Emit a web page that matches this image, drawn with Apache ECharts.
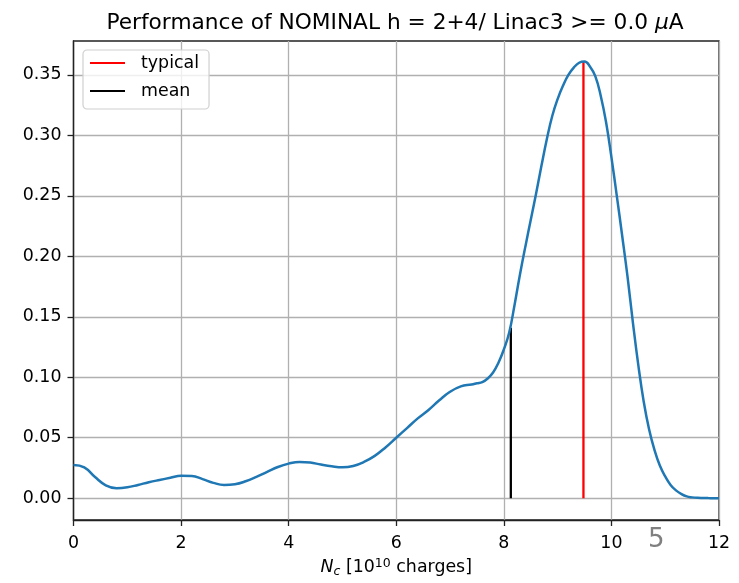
<!DOCTYPE html>
<html>
<head>
<meta charset="utf-8">
<script src="https://cdn.jsdelivr.net/npm/echarts@6/dist/echarts.min.js"></script>
<style>html,body{margin:0;padding:0;background:#fff}#c{width:739px;height:583px}</style>
</head>
<body>
<div id="c"></div>
<script>
// ---- data ----
const curveX = [0.0,0.2,0.4,0.6,0.8,1.0,1.2,1.4,1.6,1.8,2.0,2.2,2.4,2.6,2.8,3.0,3.2,3.4,3.6,3.8,4.0,4.2,4.4,4.6,4.8,5.0,5.2,5.4,5.6,5.8,6.0,6.2,6.4,6.6,6.8,7.0,7.2,7.4,
  7.5,7.6,7.7,7.8,7.9,8.0,8.1,8.2,8.3,8.4,8.5,8.6,8.7,8.8,8.9,9.0,9.1,9.2,9.3,9.4,9.5,9.6,9.7,9.8,9.9,10.0,10.1,10.2,10.3,10.4,10.5,10.6,10.7,10.8,10.9,11.0,11.1,11.2,11.3,11.4,11.5,11.6,11.8,12.0];
const curveY = [0.0275,0.0255,0.0175,0.0107,0.0083,0.009,0.011,0.0132,0.0151,0.0169,0.0186,0.0184,0.0158,0.0127,0.011,0.0116,0.014,0.0176,0.0217,0.0258,0.0286,0.030,0.0295,0.0278,0.0264,0.0256,0.0267,0.030,0.035,0.042,0.050,0.058,0.066,0.073,0.081,0.088,0.0925,0.094,
  0.095,0.096,0.099,0.104,0.112,0.123,0.137,0.160,0.185,0.208,0.230,0.252,0.275,0.297,0.316,0.330,0.341,0.350,0.356,0.360,0.361,0.357,0.349,0.333,0.311,0.282,0.250,0.217,0.183,0.145,0.110,0.080,0.057,0.040,0.027,0.018,0.011,0.0065,0.0035,0.0015,0.0007,0.0003,0.0001,0.0];
const typicalX = [9.48, 9.48];
const typicalY = [0.0, 0.361];
const meanX = [8.13, 8.13];
const meanY = [0.0, 0.141];
const yTicks = [0.00,0.05,0.10,0.15,0.20,0.25,0.30,0.35];
const xTicks = [0,2,4,6,8,10,12];

const zip = (a,b) => a.map((v,i)=>[v,b[i]]);
const FONT = 'DejaVu Sans';
const FS = 17.4;

const chart = echarts.init(document.getElementById('c'), null, {renderer:'canvas'});
chart.setOption({
  animation: false,
  backgroundColor: '#fff',
  textStyle: {fontFamily: FONT},
  title: {
    text: 'Performance of NOMINAL h = 2+4/ Linac3 >= 0.0 {mu|μ}A',
    left: 390, top: 7, textAlign: 'center',
    textStyle: {fontFamily: FONT, fontSize: 21.7, fontWeight: 'normal', color: '#000',
      rich: {mu: {fontFamily: FONT, fontSize: 21.7, fontStyle: 'italic', color:'#000'}}}
  },
  legend: {
    orient: 'vertical', left: 83, top: 50,
    data: ['typical','mean'],
    icon: 'rect', itemWidth: 35, itemHeight: 2, itemGap: 10,
    padding: [4, 10, 9, 7],
    backgroundColor: 'rgba(255,255,255,0.8)', borderColor: '#d0d0d0', borderWidth: 1.2, borderRadius: 4,
    textStyle: {fontFamily: FONT, fontSize: FS, color: '#000', lineHeight: 18, padding: [0,0,0,11]}
  },
  grid: {left: 73.5, right: 20, top: 41, bottom: 62.5, show: true, borderColor: '#222', borderWidth: 1.3, backgroundColor: 'transparent'},
  xAxis: {
    type: 'value', min: 0, max: 12, interval: 2,
    axisLine: {onZero: false, lineStyle: {color: '#222', width: 1.3}},
    axisTick: {show: true, length: 6, inside: false, lineStyle: {color:'#222', width: 1.3}},
    axisLabel: {color: '#000', fontSize: FS, margin: 15, fontFamily: FONT},
    splitLine: {show: true, lineStyle: {color: '#b0b0b0', width: 1.3}},
    name: '{i|N}{sub|c} [10{sup|10} charges]',
    nameLocation: 'middle', nameGap: 37,
    nameTextStyle: {fontFamily: FONT, fontSize: FS, color: '#000',
      rich: {
        i: {fontFamily: FONT, fontSize: FS, fontStyle: 'italic', color:'#000'},
        sub: {fontFamily: FONT, fontSize: 12.5, fontStyle: 'italic', color:'#000', verticalAlign: 'bottom', padding:[7,0,0,0]},
        sup: {fontFamily: FONT, fontSize: 12.5, color:'#000', verticalAlign: 'top', padding:[0,0,8,0]}
      }}
  },
  yAxis: {
    type: 'value', min: -0.018, max: 0.378,
    axisLine: {show: true, lineStyle: {color: '#222', width: 1.3}},
    axisTick: {show: true, length: 6, inside: false, lineStyle: {color:'#222', width: 1.3}, customValues: yTicks},
    axisLabel: {color: '#000', fontSize: FS, margin: 12, fontFamily: FONT, customValues: yTicks,
      formatter: v => v.toFixed(2)},
    splitLine: {show: true, lineStyle: {color: '#b0b0b0', width: 1.3}}
  },
  graphic: [{
    type: 'text', left: 648, top: 527, silent: true,
    style: {text: '5', fontFamily: FONT, fontSize: 26, fill: '#808080'}
  }],
  series: [
    {name: 'curve', type: 'line', data: zip(curveX, curveY), smooth: 0.45, symbol: 'none',
     lineStyle: {color: '#1f77b4', width: 2.5}, z: 3},
    {name: 'typical', type: 'line', data: zip(typicalX, typicalY), symbol: 'none',
     color: '#ff0000', lineStyle: {color: '#ff0000', width: 2.3}, z: 2},
    {name: 'mean', type: 'line', data: zip(meanX, meanY), symbol: 'none',
     color: '#000000', lineStyle: {color: '#000000', width: 2.3}, z: 2}
  ]
});
</script>
</body>
</html>
